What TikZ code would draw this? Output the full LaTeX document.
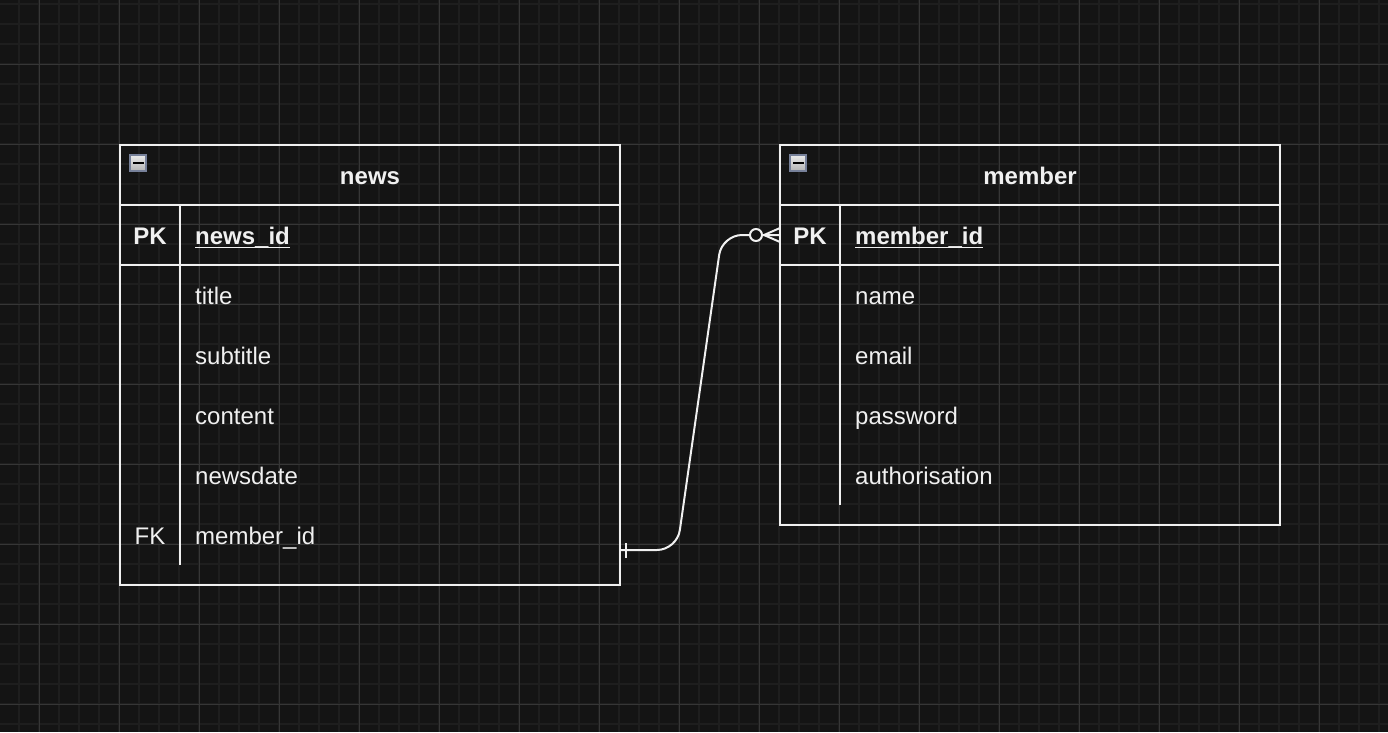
\documentclass[tikz,border=0pt]{standalone}
\usepackage{fontspec}
\setmainfont{Liberation Sans}
\definecolor{bg}{HTML}{141414}
\definecolor{gminor}{HTML}{1E1E1E}
\definecolor{gmajor}{HTML}{363636}
\definecolor{fg}{HTML}{F0F0F0}
\definecolor{iconborder}{HTML}{77819A}
\begin{document}
\begin{tikzpicture}[x=1pt,y=-1pt,
  tbl/.style={draw=fg, line width=2pt, rectangle, inner sep=0pt, outer sep=0pt, anchor=north west},
  sep/.style={draw=fg, line width=2pt},
  ttl/.style={text=fg, font=\fontsize{24}{28}\selectfont\bfseries, anchor=base, inner sep=0pt},
  key/.style={text=fg, font=\fontsize{24}{28}\selectfont, anchor=base, inner sep=0pt},
  fld/.style={text=fg, font=\fontsize{24}{28}\selectfont, anchor=base west, inner sep=0pt},
  pkfld/.style={text=fg, font=\fontsize{24}{28}\selectfont\bfseries, anchor=base west, inner sep=0pt},
  uline/.style={draw=fg, line width=1.6pt},
  conn/.style={draw=fg, line width=2pt},
  icon/.style={draw=iconborder, line width=2pt, top color=white!92!black, bottom color=white!70!black, rectangle, inner sep=0pt, minimum width=16pt, minimum height=16pt},
]
\useasboundingbox (0,0) rectangle (1388,732);
\fill[bg] (0,0) rectangle (1388,732);
% grid
\foreach \x in {-1,19,...,1389} \draw[gminor, line width=1.6pt] (\x,0) -- (\x,732);
\foreach \y in {4,24,...,732} \draw[gminor, line width=1.6pt] (0,\y) -- (1388,\y);
\foreach \x in {39,119,...,1389} \draw[gmajor, line width=1pt] (\x,0) -- (\x,732);
\foreach \y in {64,144,...,732} \draw[gmajor, line width=1pt] (0,\y) -- (1388,\y);

% ---- news table
\node[tbl, minimum width=500pt, minimum height=440pt] (news) at (120,145) {};
\draw[sep] (120,205) -- (620,205);
\draw[sep] (120,265) -- (620,265);
\draw[sep] (180,205) -- (180,565);
\node[icon] (newsicon) at (138,163) {};
\fill[black] (132.5,162) rectangle (143.5,164.2);
\node[ttl] (newsttl) at (370,184) {news};
\node[ttl] (newspk) at (150,244) {PK};
\node[pkfld] (newsid) at (195,244) {news\_id};
\draw[uline] ([yshift=-3.6pt]newsid.base west) -- ([yshift=-3.6pt]newsid.base east);
\node[fld] (ntitle) at (195,304) {title};
\node[fld] (nsub) at (195,364) {subtitle};
\node[fld] (ncont) at (195,424) {content};
\node[fld] (ndate) at (195,484) {newsdate};
\node[key] (nfk) at (150,544) {FK};
\node[fld] (nmem) at (195,544) {member\_id};

% ---- member table
\node[tbl, minimum width=500pt, minimum height=380pt] (member) at (780,145) {};
\draw[sep] (780,205) -- (1280,205);
\draw[sep] (780,265) -- (1280,265);
\draw[sep] (840,205) -- (840,505);
\node[icon] (memicon) at (798,163) {};
\fill[black] (792.5,162) rectangle (803.5,164.2);
\node[ttl] (memttl) at (1030,184) {member};
\node[ttl] (mempk) at (810,244) {PK};
\node[pkfld] (memid) at (855,244) {member\_id};
\draw[uline] ([yshift=-3.6pt]memid.base west) -- ([yshift=-3.6pt]memid.base east);
\node[fld] (mname) at (855,304) {name};
\node[fld] (memail) at (855,364) {email};
\node[fld] (mpass) at (855,424) {password};
\node[fld] (mauth) at (855,484) {authorisation};

% ---- connector
\coordinate (cstart) at (news.east |- 0,550);
\coordinate (cend) at (member.west |- 0,235);
\draw[conn, rounded corners=20pt] (cstart) -- (677,550) -- (722,235) -- (cend);
% one mandatory (news side)
\draw[conn] ([xshift=6pt,yshift=-7.5pt]cstart) -- ([xshift=6pt,yshift=7.5pt]cstart);
% zero or many (member side)
\draw[conn, fill=bg] ([xshift=-24pt]cend) circle (6pt);
\draw[conn] ([xshift=-16pt]cend) -- ([yshift=7pt]cend);
\draw[conn] ([xshift=-16pt]cend) -- ([yshift=-7pt]cend);
\end{tikzpicture}
\end{document}
